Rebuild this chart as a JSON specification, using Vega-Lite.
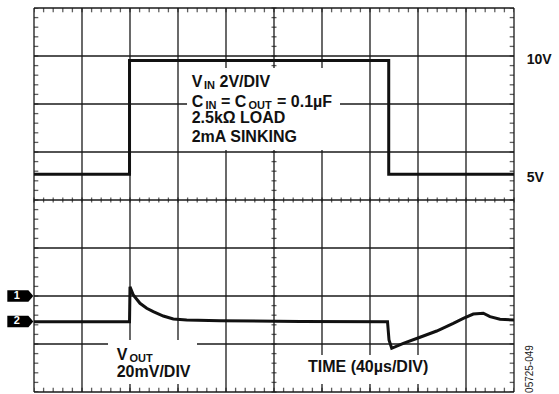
{
  "$schema": "https://vega.github.io/schema/vega-lite/v6.json",
  "width": 480,
  "height": 384,
  "autosize": {"type": "none"},
  "padding": {"left": 34, "top": 8, "right": 45, "bottom": 2},
  "background": "white",
  "config": {"view": {"stroke": null}, "text": {"font": "Liberation Sans"}},
  "datasets": {
    "gx": [{"v":0},{"v":1},{"v":2},{"v":3},{"v":4},{"v":5},{"v":6},{"v":7},{"v":8},{"v":9},{"v":10}],
    "gy": [{"v":0},{"v":1},{"v":2},{"v":3},{"v":4},{"v":5},{"v":6},{"v":7},{"v":8}],
    "mx": [{"v":0},{"v":0.2},{"v":0.4},{"v":0.6},{"v":0.8},{"v":1},{"v":1.2},{"v":1.4},{"v":1.6},{"v":1.8},{"v":2},{"v":2.2},{"v":2.4},{"v":2.6},{"v":2.8},{"v":3},{"v":3.2},{"v":3.4},{"v":3.6},{"v":3.8},{"v":4},{"v":4.2},{"v":4.4},{"v":4.6},{"v":4.8},{"v":5},{"v":5.2},{"v":5.4},{"v":5.6},{"v":5.8},{"v":6},{"v":6.2},{"v":6.4},{"v":6.6},{"v":6.8},{"v":7},{"v":7.2},{"v":7.4},{"v":7.6},{"v":7.8},{"v":8},{"v":8.2},{"v":8.4},{"v":8.6},{"v":8.8},{"v":9},{"v":9.2},{"v":9.4},{"v":9.6},{"v":9.8},{"v":10}],
    "my": [{"v":0},{"v":0.2},{"v":0.4},{"v":0.6},{"v":0.8},{"v":1},{"v":1.2},{"v":1.4},{"v":1.6},{"v":1.8},{"v":2},{"v":2.2},{"v":2.4},{"v":2.6},{"v":2.8},{"v":3},{"v":3.2},{"v":3.4},{"v":3.6},{"v":3.8},{"v":4},{"v":4.2},{"v":4.4},{"v":4.6},{"v":4.8},{"v":5},{"v":5.2},{"v":5.4},{"v":5.6},{"v":5.8},{"v":6},{"v":6.2},{"v":6.4},{"v":6.6},{"v":6.8},{"v":7},{"v":7.2},{"v":7.4},{"v":7.6},{"v":7.8},{"v":8}],
    "boxes": [
      {"x1":3.188,"x2":6.375,"y1":5.042,"y2":6.75},
      {"x1":1.542,"x2":3.396,"y1":0.167,"y2":1.083},
      {"x1":5.625,"x2":8.292,"y1":0.167,"y2":0.771}
    ],
    "traces": [
      {"s":"VIN","i":0,"x":0,"y":4.535},
      {"s":"VIN","i":1,"x":1.99,"y":4.535},
      {"s":"VIN","i":2,"x":1.99,"y":6.906},
      {"s":"VIN","i":3,"x":7.39,"y":6.906},
      {"s":"VIN","i":4,"x":7.39,"y":4.535},
      {"s":"VIN","i":5,"x":10,"y":4.535},
      {"s":"VOUT","i":0,"x":0,"y":1.465},
      {"s":"VOUT","i":1,"x":1.99,"y":1.465},
      {"s":"VOUT","i":2,"x":2.0,"y":2.194},
      {"s":"VOUT","i":3,"x":2.069,"y":2.021},
      {"s":"VOUT","i":4,"x":2.208,"y":1.848},
      {"s":"VOUT","i":5,"x":2.348,"y":1.744},
      {"s":"VOUT","i":6,"x":2.485,"y":1.673},
      {"s":"VOUT","i":7,"x":2.694,"y":1.583},
      {"s":"VOUT","i":8,"x":2.902,"y":1.521},
      {"s":"VOUT","i":9,"x":3.181,"y":1.5},
      {"s":"VOUT","i":10,"x":3.875,"y":1.485},
      {"s":"VOUT","i":11,"x":5.542,"y":1.469},
      {"s":"VOUT","i":12,"x":7.365,"y":1.465},
      {"s":"VOUT","i":13,"x":7.396,"y":1.083},
      {"s":"VOUT","i":14,"x":7.452,"y":0.91},
      {"s":"VOUT","i":15,"x":7.694,"y":1.015},
      {"s":"VOUT","i":16,"x":8.042,"y":1.14},
      {"s":"VOUT","i":17,"x":8.39,"y":1.271},
      {"s":"VOUT","i":18,"x":8.735,"y":1.431},
      {"s":"VOUT","i":19,"x":8.944,"y":1.535},
      {"s":"VOUT","i":20,"x":9.152,"y":1.625},
      {"s":"VOUT","i":21,"x":9.36,"y":1.64},
      {"s":"VOUT","i":22,"x":9.5,"y":1.569},
      {"s":"VOUT","i":23,"x":9.708,"y":1.515},
      {"s":"VOUT","i":24,"x":10,"y":1.5}
    ],
    "markers": [{"n":"1","x":-0.285,"y":2.0,"tx":-0.36},{"n":"2","x":-0.285,"y":1.47,"tx":-0.36}],
    "main": [
      {"t":"V","x":3.285,"y":6.36},
      {"t":"2V/DIV","x":3.865,"y":6.36},
      {"t":"C","x":3.285,"y":5.944},
      {"t":"=","x":3.896,"y":5.944},
      {"t":"C","x":4.183,"y":5.944},
      {"t":"= 0.1µF","x":5.063,"y":5.944},
      {"t":"2.5kΩ LOAD","x":3.285,"y":5.598},
      {"t":"2mA SINKING","x":3.285,"y":5.215},
      {"t":"V","x":1.723,"y":0.667},
      {"t":"20mV/DIV","x":1.723,"y":0.319},
      {"t":"TIME (40µs/DIV)","x":5.708,"y":0.423}
    ],
    "subs": [
      {"t":"IN","x":3.542,"y":6.319},
      {"t":"IN","x":3.573,"y":5.902},
      {"t":"OUT","x":4.469,"y":5.902},
      {"t":"OUT","x":1.99,"y":0.625}
    ],
    "side": [
      {"t":"10V","x":10.265,"y":6.833},
      {"t":"5V","x":10.265,"y":4.381}
    ],
    "code": [{"t":"05725-049","x":10.333,"y":0.479}]
  },
  "layer": [
    {
      "data": {"name": "gx"},
      "mark": {"type": "rule", "color": "#1a1a1a", "strokeWidth": 1.3},
      "encoding": {"x": {"field": "v", "type": "quantitative", "scale": {"domain": [0, 10], "nice": false, "zero": false}, "axis": null}}
    },
    {
      "data": {"name": "gy"},
      "mark": {"type": "rule", "color": "#1a1a1a", "strokeWidth": 1.3},
      "encoding": {"y": {"field": "v", "type": "quantitative", "scale": {"domain": [0, 8], "nice": false, "zero": false}, "axis": null}}
    },
    {
      "data": {"name": "mx"},
      "mark": {"type": "tick", "orient": "vertical", "color": "#1a1a1a", "size": 8.6, "thickness": 1.3, "clip": true},
      "encoding": {"x": {"field": "v", "type": "quantitative", "axis": null}, "y": {"datum": 8, "type": "quantitative", "axis": null}}
    },
    {
      "data": {"name": "mx"},
      "mark": {"type": "tick", "orient": "vertical", "color": "#1a1a1a", "size": 8.6, "thickness": 1.3, "clip": true},
      "encoding": {"x": {"field": "v", "type": "quantitative", "axis": null}, "y": {"datum": 0, "type": "quantitative", "axis": null}}
    },
    {
      "data": {"name": "mx"},
      "mark": {"type": "tick", "orient": "vertical", "color": "#1a1a1a", "size": 5, "thickness": 1.3},
      "encoding": {"x": {"field": "v", "type": "quantitative", "axis": null}, "y": {"datum": 4, "type": "quantitative", "axis": null}}
    },
    {
      "data": {"name": "my"},
      "mark": {"type": "tick", "orient": "horizontal", "color": "#1a1a1a", "size": 8.6, "thickness": 1.3, "clip": true},
      "encoding": {"y": {"field": "v", "type": "quantitative", "axis": null}, "x": {"datum": 0, "type": "quantitative", "axis": null}}
    },
    {
      "data": {"name": "my"},
      "mark": {"type": "tick", "orient": "horizontal", "color": "#1a1a1a", "size": 8.6, "thickness": 1.3, "clip": true},
      "encoding": {"y": {"field": "v", "type": "quantitative", "axis": null}, "x": {"datum": 10, "type": "quantitative", "axis": null}}
    },
    {
      "data": {"name": "my"},
      "mark": {"type": "tick", "orient": "horizontal", "color": "#1a1a1a", "size": 5, "thickness": 1.3},
      "encoding": {"y": {"field": "v", "type": "quantitative", "axis": null}, "x": {"datum": 5, "type": "quantitative", "axis": null}}
    },
    {
      "data": {"name": "boxes"},
      "mark": {"type": "rect", "fill": "white", "stroke": null},
      "encoding": {
        "x": {"field": "x1", "type": "quantitative", "axis": null}, "x2": {"field": "x2"},
        "y": {"field": "y1", "type": "quantitative", "axis": null}, "y2": {"field": "y2"}
      }
    },
    {
      "data": {"name": "traces"},
      "mark": {"type": "line", "color": "#111111", "strokeWidth": 3, "strokeJoin": "miter"},
      "encoding": {
        "x": {"field": "x", "type": "quantitative", "axis": null},
        "y": {"field": "y", "type": "quantitative", "axis": null},
        "detail": {"field": "s"},
        "order": {"field": "i", "type": "quantitative"}
      }
    },
    {
      "data": {"name": "markers"},
      "mark": {"type": "point", "shape": "M-1,-0.44L0.62,-0.44L1,0L0.62,0.44L-1,0.44Z", "size": 676, "filled": true, "fill": "#000000", "strokeWidth": 0, "opacity": 1},
      "encoding": {
        "x": {"field": "x", "type": "quantitative", "axis": null},
        "y": {"field": "y", "type": "quantitative", "axis": null}
      }
    },
    {
      "data": {"name": "markers"},
      "mark": {"type": "text", "color": "white", "fontWeight": "bold", "fontSize": 11, "align": "center", "baseline": "middle"},
      "encoding": {
        "x": {"field": "tx", "type": "quantitative", "axis": null},
        "y": {"field": "y", "type": "quantitative", "axis": null},
        "text": {"field": "n"}
      }
    },
    {
      "data": {"name": "main"},
      "mark": {"type": "text", "color": "#111111", "fontWeight": "bold", "fontSize": 16, "align": "left", "baseline": "alphabetic"},
      "encoding": {
        "x": {"field": "x", "type": "quantitative", "axis": null},
        "y": {"field": "y", "type": "quantitative", "axis": null},
        "text": {"field": "t"}
      }
    },
    {
      "data": {"name": "subs"},
      "mark": {"type": "text", "color": "#111111", "fontWeight": "bold", "fontSize": 11, "align": "left", "baseline": "alphabetic"},
      "encoding": {
        "x": {"field": "x", "type": "quantitative", "axis": null},
        "y": {"field": "y", "type": "quantitative", "axis": null},
        "text": {"field": "t"}
      }
    },
    {
      "data": {"name": "side"},
      "mark": {"type": "text", "color": "#111111", "fontWeight": "bold", "fontSize": 14, "align": "left", "baseline": "alphabetic"},
      "encoding": {
        "x": {"field": "x", "type": "quantitative", "axis": null},
        "y": {"field": "y", "type": "quantitative", "axis": null},
        "text": {"field": "t"}
      }
    },
    {
      "data": {"name": "code"},
      "mark": {"type": "text", "color": "#222222", "fontSize": 10, "angle": 270, "align": "center", "baseline": "middle"},
      "encoding": {
        "x": {"field": "x", "type": "quantitative", "axis": null},
        "y": {"field": "y", "type": "quantitative", "axis": null},
        "text": {"field": "t"}
      }
    }
  ]
}
